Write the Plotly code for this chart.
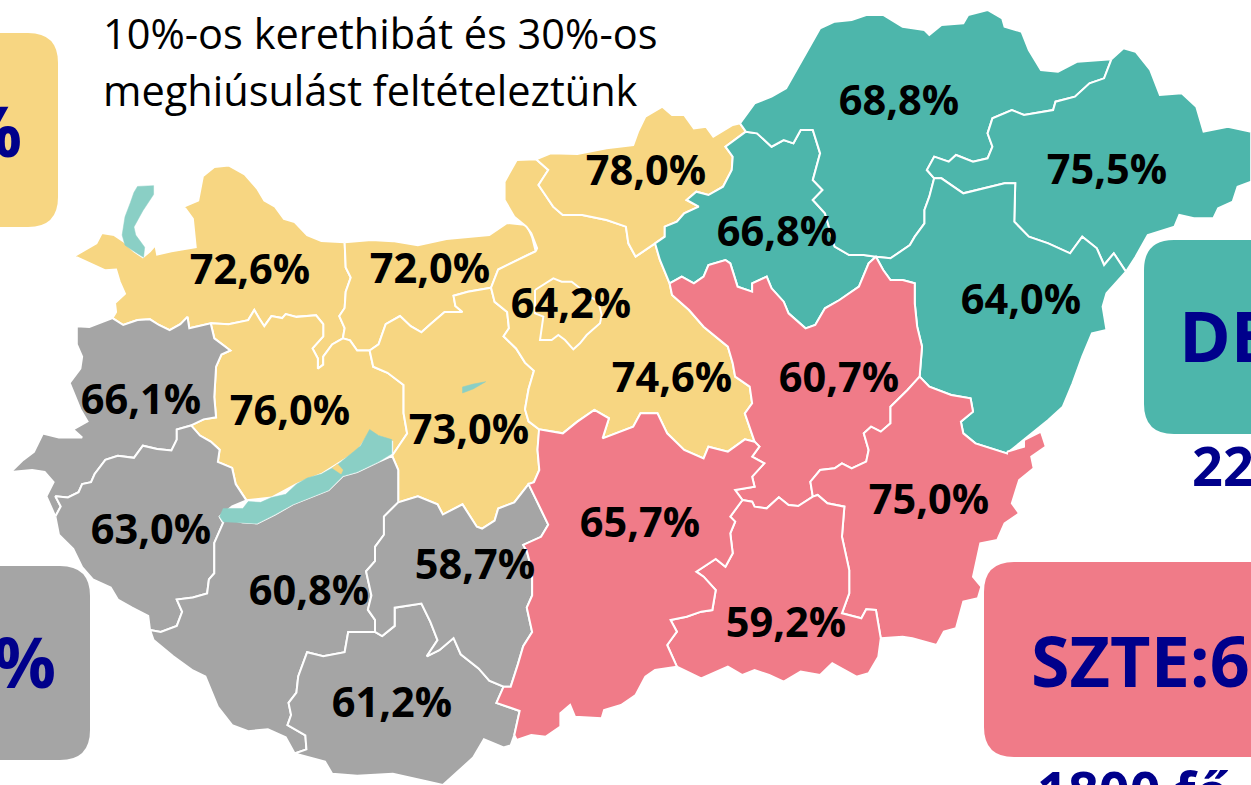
import plotly.graph_objects as go

YELLOW, GRAY, TEAL, PINK = "#F7D682", "#A5A5A5", "#4DB6AB", "#F07B88"
LAKE = "#8ACFC5"
NAVY = "#00008B"

def z1(p): return [(x / 2.8, 150 + y / 2.469) for x, y in p]
def z2(p): return [(490 + x / 2.06, y / 3) for x, y in p]
def z3(p): return [(490 + x / 2.06, 380 + y / 3) for x, y in p]
def z4(p): return [(490 + x / 3, 260 + y / 3) for x, y in p]
def rev(p): return p[::-1]

# --- county borders ---
GY_N = z1([(965,228),(900,225),(860,210),(825,178),(795,170),(770,140),(740,125),(720,95),(685,60),(640,38),(600,42),(568,65),(555,125),(515,140),(540,170),(548,240),(480,250),(440,258),(435,235),(420,250),(400,265),(375,250),(345,225),(320,210),(285,205),(270,230),(208,262),(250,278),(295,297),(325,295),(335,325),(350,355),(322,378),(325,400),(315,415)])
GY_VAS = z1([(315,415),(345,432),(385,420),(420,418),(445,432),(475,445),(505,430),(525,412),(530,440),(590,428)])
GY_VESZ = z1([(590,428),(640,430),(695,420),(712,395),(725,415),(740,435),(760,410),(790,415),(800,405),(830,412),(885,408),(905,430),(905,460),(875,490),(890,515),(890,540),(905,530),(905,510),(930,480),(960,465)])
GY_KOM = z1([(965,228),(968,290),(982,315),(968,350),(965,390),(950,410),(965,440),(960,465)])
KOM_N = z1([(965,228),(1040,222),(1100,225),(1170,235),(1250,220),(1320,215),(1370,210),(1420,180),(1475,185),(1490,215),(1500,250)])
KOM_PEST = z1([(1500,250),(1470,262),(1430,280),(1395,295),(1375,340)])
KOM_FEJ = z1([(1375,340),(1310,350),(1270,360),(1275,385),(1295,400),(1245,400),(1205,430),(1180,450),(1150,435),(1120,410),(1080,430),(1060,480),(1035,495)])
KOM_VESZ = z1([(1035,495),(1000,495),(980,470),(960,465)])
VESZ_FEJ = z1([(1035,495),(1045,535),(1085,550),(1130,580),(1130,650),(1140,700),(1098,755)])
SHORE_N = z1([(690,865),(760,858),(830,825),(900,800),(945,775),(1000,745),(1035,700),(1098,720),(1098,755)])
VAS_VESZ = z1([(590,428),(600,465),(645,495),(620,505),(605,535),(600,610),(605,660),(570,665),(535,680)])
VESZ_ZALA = z1([(535,680),(560,705),(590,720),(615,740),(610,770),(650,785),(660,825),(690,865)])
VAS_ZALA = z1([(535,680),(495,690),(495,715),(480,742),(440,738),(400,730),(375,760),(330,755),(295,765),(265,800),(255,820),(230,825),(220,845),(190,858),(155,855),(170,880),(155,905)])
VAS_OUT = z1([(155,905),(130,855),(150,820),(125,795),(90,790),(30,795),(65,765),(95,745),(120,700),(165,710),(230,710),(205,690),(245,670),(225,640),(195,575),(225,540),(230,510),(215,480),(215,435),(250,437),(315,415)])
ZALA_N = z1([(690,865),(650,880),(615,905)])
ZALA_SOM = z1([(615,905),(625,920),(600,970),(600,1045),(585,1060),(580,1095),(540,1105),(495,1110),(510,1140),(495,1175),(450,1190),(420,1185)])
ZALA_OUT = z1([(420,1185),(415,1150),(370,1130),(330,1110),(310,1080),(260,1060),(230,1030),(205,985),(165,950),(155,905)])
LAKE_S = z1([(615,905),(680,920),(720,922),(770,900),(820,875),(920,840),(960,805),(1000,795),(1060,770),(1098,755)])
FEJ_SOM = z1([(1098,755),(1115,790),(1115,870)])
SOM_TOL = z1([(1115,870),(1075,905),(1075,950),(1050,980),(1050,1015),(1025,1040),(1040,1100),(1030,1135),(1050,1160),(1050,1190)])
SOM_BAR = z1([(1050,1190),(975,1190),(965,1240),(905,1250),(860,1240),(835,1300),(830,1340),(808,1365),(815,1395),(805,1420),(855,1445),(858,1480),(825,1490)])
SOM_OUT = z1([(825,1490),(800,1450),(750,1430),(695,1435),(650,1420),(610,1375),(575,1300),(540,1285),(485,1250),(430,1210),(420,1185)])
BAR_TOL = z1([(1050,1190),(1070,1200),(1105,1175),(1105,1130),(1180,1120),(1205,1165),(1225,1210),(1195,1250),(1230,1235),(1270,1205),(1290,1245),(1340,1280),(1370,1310),(1410,1325)])
BAR_BACS = z1([(1410,1325),(1390,1365),(1455,1385),(1440,1445)])
BAR_OUT = z1([(1440,1445),(1430,1470),(1410,1475),(1355,1455),(1325,1500),(1240,1568),(1200,1560),(1100,1540),(1000,1545),(930,1540),(910,1510),(825,1490)])
TOL_N = z1([(1115,870),(1170,855),(1225,875),(1240,900),(1295,875),(1335,930),(1350,935),(1385,915),(1395,885),(1440,870),(1480,825)])
TOL_BACS = z1([(1480,825),(1505,870),(1535,925),(1515,955),(1465,975),(1475,990),(1490,1040),(1490,1100),(1475,1130),(1490,1190),(1465,1225),(1450,1270),(1430,1325),(1410,1325)])
FEJ_PEST = z1([(1375,340),(1385,375),(1420,400),(1425,440),(1410,460),(1445,490),(1470,525),(1495,545),(1480,590),(1470,640),(1480,670),(1510,690)])
FEJ_BACS = z1([(1510,690),(1505,740),(1510,790),(1495,820),(1480,825)])
PEST_NW = z2([(95,478),(55,480),(30,545),(30,600),(50,650),(75,680),(85,700),(97,745)])
NOG_N = z2([(95,478),(125,460),(180,462),(240,445),(295,435),(305,395),(320,350),(355,320),(375,345),(400,345),(420,385),(445,380),(460,410),(500,375),(515,370),(527,395)])
NOG_HEV = z2([(527,395),(485,440),(500,470),(498,510),(480,560),(450,585),(425,575),(405,600),(430,620),(400,640),(385,665),(360,680),(360,710),(340,730)])
NOG_PEST = z2([(340,730),(300,770),(285,730),(280,680),(240,660),(190,645),(150,645),(130,620),(100,555),(120,510),(95,478)])
PEST_HEV = z2([(340,730),(350,780),(370,850)])
PEST_BACS = z3([(101,148),(150,160),(180,125),(215,90),(245,115),(232,175),(295,140),(310,100),(345,100),(365,160),(400,210),(440,235),(450,200),(490,215),(525,178),(545,185)])
PEST_SZOL = z3([(545,185)]) + z2([(525,1240),(540,1210),(535,1160),(505,1130),(500,1090),(490,1040),(440,980),(410,930),(375,885),(370,850)])
HEV_SZOL = z2([(795,770),(780,790),(760,860),(720,900),(690,925),(670,975),(650,985),(615,940),(605,905),(580,865),(570,830),(540,850),(540,875),(510,860),(495,790),(485,780),(450,795),(440,830),(420,850),(395,830),(370,850)])
HEV_BAZ = z2([(527,395),(550,400),(580,440),(605,420),(625,430),(640,390),(665,390),(680,460),(665,540),(685,570),(665,600),(690,640),(710,740),(740,765),(770,765),(795,770)])
BAZ_N = z2([(527,395),(515,370),(545,310),(580,290),(610,265),(645,175),(680,85),(710,65),(745,60),(775,45),(810,45),(850,80),(895,90),(905,105),(930,75),(975,70),(985,45),(1025,30),(1055,55),(1060,80),(1095,95),(1110,150),(1135,210),(1170,215),(1210,185),(1280,178)])
BAZ_SZAB = z2([(1280,178),(1265,235),(1235,250),(1205,290),(1165,305),(1160,330),(1100,345),(1075,330),(1035,355),(1025,400),(1035,440),(1025,475),(995,485),(960,465),(945,485),(915,470),(900,510),(915,535)])
BAZ_HAJ = z2([(915,535),(905,590),(895,630),(895,670),(875,710),(865,735),(825,775),(795,770)])
SZAB_OUT = z2([(1280,178),(1305,145),(1330,155),(1360,210),(1380,285),(1425,280),(1455,320),(1470,395),(1520,380),(1568,395),(1568,545),(1540,560),(1530,605),(1500,625),(1490,655),(1450,655),(1420,645),(1410,680),(1355,705),(1330,770),(1310,815)])
SZAB_HAJ = z2([(1310,815),(1285,760),(1265,795),(1250,745),(1220,710),(1195,760),(1150,730),(1110,710),(1080,665),(1082,550),(1060,550),(975,580),(930,535),(915,535)])
HAJ_OUT = z2([(1310,815),(1270,880),(1262,920),(1270,990),(1240,1000),(1220,1070),(1200,1150),(1180,1220),(1150,1260),(1100,1320),(1065,1360)])
HAJ_BEK = z2([(1065,1360),(1000,1330),(975,1300),(970,1265),(995,1235),(990,1195),(950,1185),(905,1160),(885,1130)])
HAJ_SZOL = z2([(885,1130),(890,1040),(880,980),(875,910),(875,850),(850,840),(825,840),(810,810),(795,770)])
SZOL_BEK = z2([(885,1130)]) + z3([(860,30),(825,80),(825,130),(805,155),(785,140),(770,160),(780,210),(775,245),(745,265),(725,250),(710,265),(680,270),(660,305),(665,350)])
SZOL_CSON = z3([(665,350),(635,378),(615,375),(595,352),(570,385),(545,380),(540,365),(520,360)])
BACS_SZOL = z3([(545,185),(555,200),(540,230),(565,250),(540,290),(545,320),(505,330),(520,360)])
BEK_OUT = z3([(1065,215),(1100,200),(1100,180),(1135,155),(1145,200),(1115,230),(1120,265),(1090,300),(1075,370),(1090,400),(1060,430),(1045,480),(1010,490),(995,590),(1012,620),(1005,655),(975,665),(960,745),(935,755),(920,795),(870,775),(850,770),(805,775)])
BEK_CSON = z3([(805,775),(795,690),(775,688),(765,715),(725,700),(740,640),(740,570),(725,470),(730,380),(695,370),(675,345),(665,350)])
CSON_OUT = z3([(805,775),(800,830),(780,880),(755,890),(705,850),(680,885),(640,875),(605,905),(575,885),(545,870),(520,885),(490,860),(435,895),(385,860)])
CSON_BACS = z3([(385,860),(365,795),(385,755),(372,720),(405,710),(435,695),(458,690),(465,630),(440,590),(425,575),(465,537),(485,560),(500,520),(495,460),(505,425),(495,410),(520,360)])
BACS_OUT = z3([(385,860),(340,870),(320,890),(300,945),(270,975),(235,990),(230,1015),(175,1010),(165,975),(145,1000),(145,1040),(115,1070),(85,1065),(55,1080),(50,1065)])

# --- counties: name, colour, outline ---
COUNTIES = [
 ("Győr-Moson-Sopron", YELLOW, GY_N + GY_VAS + GY_VESZ + rev(GY_KOM)),
 ("Komárom-Esztergom", YELLOW, KOM_N + KOM_PEST + KOM_FEJ + KOM_VESZ + rev(GY_KOM)),
 ("Veszprém", YELLOW, GY_VESZ + rev(KOM_VESZ) + VESZ_FEJ + rev(SHORE_N) + rev(VESZ_ZALA) + rev(VAS_VESZ)),
 ("Fejér", YELLOW, rev(KOM_FEJ) + FEJ_PEST + FEJ_BACS + rev(TOL_N) + rev(FEJ_SOM) + rev(VESZ_FEJ)),
 ("Pest", YELLOW, KOM_PEST + FEJ_PEST + PEST_BACS + PEST_SZOL + rev(PEST_HEV) + NOG_PEST + PEST_NW),
 ("Nógrád", YELLOW, NOG_N + NOG_HEV + NOG_PEST),
 ("Vas", GRAY, GY_VAS + VAS_VESZ + VAS_ZALA + VAS_OUT),
 ("Zala", GRAY, rev(VAS_ZALA) + VESZ_ZALA + ZALA_N + ZALA_SOM + ZALA_OUT),
 ("Somogy", GRAY, LAKE_S + FEJ_SOM + SOM_TOL + SOM_BAR + SOM_OUT + rev(ZALA_SOM)),
 ("Baranya", GRAY, BAR_TOL + BAR_BACS + BAR_OUT + rev(SOM_BAR)),
 ("Tolna", GRAY, TOL_N + TOL_BACS + rev(BAR_TOL) + rev(SOM_TOL)),
 ("Heves", TEAL, HEV_BAZ + HEV_SZOL + rev(PEST_HEV) + rev(NOG_HEV)),
 ("Borsod-Abaúj-Zemplén", TEAL, BAZ_N + BAZ_SZAB + BAZ_HAJ + rev(HEV_BAZ)),
 ("Szabolcs-Szatmár-Bereg", TEAL, SZAB_OUT + SZAB_HAJ + rev(BAZ_SZAB)),
 ("Hajdú-Bihar", TEAL, HAJ_OUT + HAJ_BEK + HAJ_SZOL + rev(BAZ_HAJ) + rev(SZAB_HAJ)),
 ("Jász-Nagykun-Szolnok", PINK, rev(HEV_SZOL) + rev(HAJ_SZOL) + SZOL_BEK + SZOL_CSON + rev(BACS_SZOL) + PEST_SZOL),
 ("Békés", PINK, BEK_OUT + BEK_CSON + rev(SZOL_BEK) + rev(HAJ_BEK)),
 ("Csongrád", PINK, CSON_OUT + CSON_BACS + rev(SZOL_CSON) + rev(BEK_CSON)),
 ("Bács-Kiskun", PINK, BACS_OUT + rev(BAR_BACS) + rev(TOL_BACS) + rev(FEJ_BACS) + PEST_BACS + BACS_SZOL + rev(CSON_BACS)),
 ("Budapest", YELLOW, z4([(135,90),(190,55),(215,65),(245,65),(270,85),(300,110),(325,125),(335,165),(330,190),(290,225),(270,250),(250,268),(225,240),(205,225),(185,240),(150,240),(160,170),(135,160)])),
]
LAKES = [
 ("Balaton", LAKE, z1([(615,905),(625,885),(650,885),(680,885),(695,868),(730,870),(760,858),(800,850),(830,825),(860,810),(900,800),(940,780),(990,745),(1010,730),(1035,690),(1060,705),(1097,715),(1097,750),(1060,770),(1000,795),(960,805),(920,840),(820,875),(770,900),(720,922),(680,920),(625,918)])),
 ("Tihany", YELLOW, z1([(930,785),(945,775),(960,790),(955,800)])),
 ("Fertő", LAKE, z1([(385,90),(430,88),(430,110),(400,150),(375,190),(380,210),(405,240),(402,265),(375,250),(350,235),(342,210),(350,165),(365,130),(375,105)])),
 ("Velencei-tó", LAKE, z1([(1295,585),(1325,578),(1360,572),(1325,590),(1295,600)])),
]

LABELS = ["72,6%","72,0%","64,2%","78,0%","68,8%","75,5%","66,8%","64,0%","74,6%","60,7%",
          "66,1%","76,0%","73,0%","63,0%","65,7%","75,0%","58,7%","60,8%","59,2%","61,2%"]
LABEL_X = [250,430,571,646,899,1107,777,1021,672,839,141,290,469,151,640,929,475,309,786,392]
LABEL_Y = [274,273,308,175,105,174,236,304,382,382,404,415,434,534,527,504,569,595,627,707]

NOTE_LINES = ["10%-os kerethibát és 30%-os", "meghiúsulást feltételeztünk"]

# cards: x0, x1, y0, y1, colour
CARDS = [(-40,58,33,227,YELLOW), (-40,90,566,760,GRAY), (1144,1300,240,434,TEAL), (984,1300,562,757,PINK)]
CARD_TEXT = [("%",24,130,"right",70), ("%",58,661,"right",70), ("DE",1177,335,"left",70), ("SZTE:63",1029,660,"left",70)]
SUB_TEXT = [("22",1190,465,"left",54)]

fig = go.Figure()
for name, colour, pts in COUNTIES:
    fig.add_trace(go.Scatter(x=[p[0] for p in pts] + [pts[0][0]], y=[p[1] for p in pts] + [pts[0][1]],
                             mode="lines", fill="toself", fillcolor=colour, name=name,
                             line=dict(color="white", width=2), hoverinfo="name", showlegend=False))
for name, colour, pts in LAKES:
    fig.add_trace(go.Scatter(x=[p[0] for p in pts] + [pts[0][0]], y=[p[1] for p in pts] + [pts[0][1]],
                             mode="lines", fill="toself", fillcolor=colour, name=name,
                             line=dict(color=colour, width=0.5), hoverinfo="name", showlegend=False))
fig.add_trace(go.Scatter(x=LABEL_X, y=LABEL_Y, text=LABELS, mode="text", textposition="middle center",
                         textfont=dict(family="Open Sans", size=41.5, color="black", weight="bold"),
                         hoverinfo="skip", showlegend=False))

def rounded(x0, x1, y0, y1, r=30):
    return (f"M{x0+r},{y0} L{x1-r},{y0} Q{x1},{y0} {x1},{y0+r} L{x1},{y1-r} Q{x1},{y1} {x1-r},{y1} "
            f"L{x0+r},{y1} Q{x0},{y1} {x0},{y1-r} L{x0},{y0+r} Q{x0},{y0} {x0+r},{y0} Z")

shapes = [dict(type="path", path=rounded(a, b, c, d), fillcolor=col, line=dict(width=0), layer="above",
               xref="x", yref="y") for a, b, c, d, col in CARDS]

ann = []
for i, line in enumerate(NOTE_LINES):
    ann.append(dict(x=101, y=33 + i * 57, text=line, xanchor="left", yanchor="middle", showarrow=False,
                    font=dict(family="Open Sans", size=41.5, color="black")))
for t, x, y, anchor, size in CARD_TEXT + SUB_TEXT:
    ann.append(dict(x=x, y=y, text=f"<b>{t}</b>", xanchor=anchor, yanchor="middle", showarrow=False,
                    font=dict(family="Open Sans", size=size, color=NAVY)))
ann.append(dict(x=1035, y=751, text="<b>1800 fő</b>", xanchor="left", yanchor="top", showarrow=False,
                font=dict(family="Open Sans", size=54, color=NAVY)))

fig.update_layout(width=1251, height=785, margin=dict(l=0, r=0, t=0, b=0), paper_bgcolor="white", plot_bgcolor="white",
                  xaxis=dict(range=[0, 1251], visible=False, fixedrange=True),
                  yaxis=dict(range=[785, 0], visible=False, fixedrange=True),
                  shapes=shapes, annotations=ann, showlegend=False)
fig.write_html("out.html", config={"displayModeBar": False},
               post_script="document.body.style.margin='0';document.body.style.overflow='hidden';")
